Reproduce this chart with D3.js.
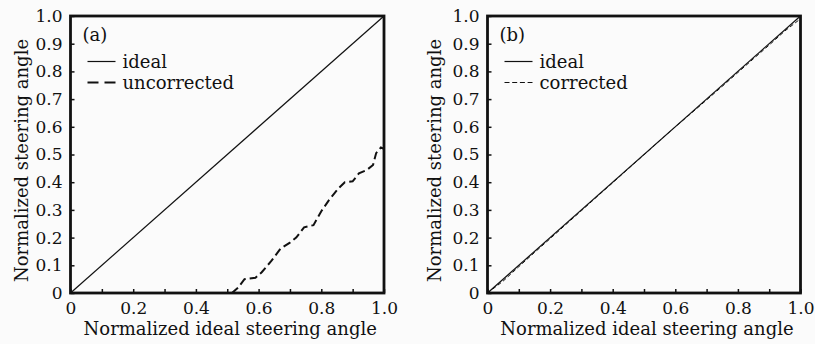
<!DOCTYPE html>
<html>
<head>
<meta charset="utf-8">
<script src="https://cdn.jsdelivr.net/npm/d3@7"></script>
<style>
  body { margin: 0; background: #fbfbfb; }
  svg { display: block; }
  text { font-family: "DejaVu Serif", serif; fill: #111; }
</style>
</head>
<body>
<svg id="chart" width="815" height="344"></svg>
<script>
// ideal response, both panels
var idealX = [0, 1];
var idealY = [0, 1];

// (a) uncorrected steering angle
var uncorrX = [0.515, 0.535, 0.555, 0.59, 0.61, 0.64, 0.67, 0.70, 0.72, 0.745, 0.775, 0.80, 0.825, 0.855, 0.875, 0.90, 0.92, 0.945, 0.965, 0.975, 0.99, 1.0];
var uncorrY = [0, 0.02, 0.05, 0.055, 0.075, 0.115, 0.16, 0.182, 0.20, 0.237, 0.245, 0.295, 0.336, 0.378, 0.40, 0.403, 0.432, 0.444, 0.462, 0.505, 0.525, 0.52];

// (b) corrected steering angle
var corrX = [0, 0.05, 0.1, 0.15, 0.2, 0.25, 0.3, 0.35, 0.4, 0.45, 0.5, 0.55, 0.6, 0.65, 0.7, 0.75, 0.8, 0.85, 0.9, 0.95, 1.0];
var corrY = [0, 0.043, 0.095, 0.146, 0.196, 0.247, 0.297, 0.348, 0.398, 0.449, 0.499, 0.55, 0.6, 0.648, 0.697, 0.746, 0.796, 0.846, 0.895, 0.946, 0.99];

var xTicks = [0, 0.1, 0.2, 0.3, 0.4, 0.5, 0.6, 0.7, 0.8, 0.9, 1.0];
var yTicks = [0, 0.1, 0.2, 0.3, 0.4, 0.5, 0.6, 0.7, 0.8, 0.9, 1.0];

var xTitle = "Normalized ideal steering angle";
var yTitle = "Normalized steering angle";

var svg = d3.select("#chart");

function fmt(d) {
    if (d === 0) return "0";
    return d.toFixed(1);
}

function drawPanel(left, right, top, bottom, yTitleX, tag, label2, xs2, ys2, dash2, width2, legDash) {
    var x = d3.scaleLinear().domain([0, 1]).range([left, right]);
    var y = d3.scaleLinear().domain([0, 1]).range([bottom, top]);
    var g = svg.append("g");

    // bottom axis, ticks pointing inward, labels only every 0.2
    var xa = g.append("g").attr("transform", "translate(0," + bottom + ")")
        .call(d3.axisBottom(x).tickValues(xTicks).tickSizeInner(-4).tickSizeOuter(0).tickPadding(9).tickFormat(fmt));
    xa.select(".domain").remove();
    xa.selectAll("line").attr("stroke", "#111").attr("stroke-width", 1.5);
    xa.selectAll("text").filter(function(d){ return Math.round(d * 10) % 2 !== 0; }).remove();
    xa.selectAll("text").style("font-size", "17px").style("font-family", "DejaVu Serif").attr("fill", "#111");

    var ya = g.append("g").attr("transform", "translate(" + left + ",0)")
        .call(d3.axisLeft(y).tickValues(yTicks).tickSizeInner(-4).tickSizeOuter(0).tickPadding(8).tickFormat(fmt));
    ya.select(".domain").remove();
    ya.selectAll("line").attr("stroke", "#111").attr("stroke-width", 1.5);
    ya.selectAll("text").style("font-size", "17px").style("font-family", "DejaVu Serif").attr("fill", "#111");

    var line = d3.line().x(function(d){ return x(d[0]); }).y(function(d){ return y(d[1]); });

    g.append("path").datum(d3.zip(idealX, idealY)).attr("d", line)
        .attr("fill", "none").attr("stroke", "#111").attr("stroke-width", 1.2);

    g.append("path").datum(d3.zip(xs2, ys2)).attr("d", line)
        .attr("fill", "none").attr("stroke", "#111").attr("stroke-width", width2)
        .attr("stroke-dasharray", dash2);

    // frame
    g.append("rect").attr("x", left).attr("y", top)
        .attr("width", right - left).attr("height", bottom - top)
        .attr("fill", "none").attr("stroke", "#111").attr("stroke-width", 2.8);

    // titles
    g.append("text").attr("x", (left + right) / 2 + 3).attr("y", 335)
        .attr("text-anchor", "middle").style("font-size", "18px").text(xTitle);
    g.append("text").attr("transform", "translate(" + yTitleX + "," + ((top + bottom) / 2 + 6) + ") rotate(-90)")
        .attr("text-anchor", "middle").style("font-size", "18px").text(yTitle);

    // panel tag and legend
    g.append("text").attr("x", left + 12).attr("y", 41).style("font-size", "18px").text(tag);
    g.append("line").attr("x1", left + 17).attr("x2", left + 45).attr("y1", 61.5).attr("y2", 61.5)
        .attr("stroke", "#111").attr("stroke-width", 1.2);
    g.append("text").attr("x", left + 52).attr("y", 68).style("font-size", "18px").text("ideal");
    g.append("line").attr("x1", left + 17).attr("x2", left + 45).attr("y1", 82.5).attr("y2", 82.5)
        .attr("stroke", "#111").attr("stroke-width", width2).attr("stroke-dasharray", legDash);
    g.append("text").attr("x", left + 52).attr("y", 89).style("font-size", "18px").text(label2);
}

drawPanel(70.5, 384, 16, 293, 28, "(a)", "uncorrected", uncorrX, uncorrY, "8,4", 2, "11,6");
drawPanel(487.5, 800.5, 16, 293, 441, "(b)", "corrected", corrX, corrY, "4,2.5", 1, "5,2.7");
</script>
</body>
</html>
